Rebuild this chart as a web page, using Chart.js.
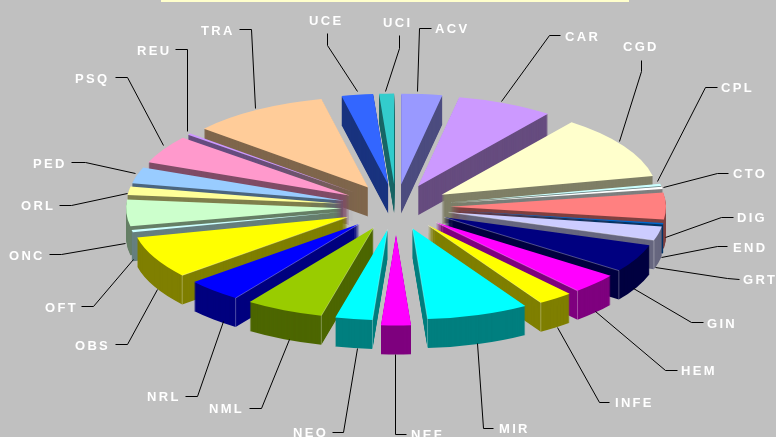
<!DOCTYPE html>
<html>
<head>
<meta charset="utf-8">
<style>
html,body{margin:0;padding:0;background:#C0C0C0;}
canvas{display:block;}
</style>
<script src="https://cdn.jsdelivr.net/npm/chart.js@4"></script>
</head>
<body>
<canvas id="c" width="776" height="437"></canvas>
<script>
const categories = ["ACV","CAR","CGD","CPL","CTO","DIG","END","GRT","GIN","HEM","INFE","MIR","NEF","NEO","NML","NRL","OBS","OFT","ONC","ORL","PED","PSQ","REU","TRA","UCE","UCI"];
const values = [11,26,41,1.5,1.5,17,1,9,18,13,9.5,27.5,8,10,21,15,27,1.5,17,5.5,10.5,18,1,37,8.5,4];
const colors = ["#9999FF","#CC99FF","#FFFFCC","#CCFFFF","#FFFFFF","#FF8080","#0066CC","#CCCCFF","#000080","#FF00FF","#FFFF00","#00FFFF","#FF00FF","#00FFFF","#99CC00","#0000FF","#FFFF00","#CCFFFF","#CCFFCC","#FFFF99","#99CCFF","#FF99CC","#CC99FF","#FFCC99","#3366FF","#33CCCC"];

// Layout of the callouts: text left edge, text middle, elbow, and end of the leader
const callouts = {
  ACV:{x:435,y:29,l:[[431,28],[419,28],[417,91]]},
  CAR:{x:565,y:37,l:[[560,35],[549,35],[501,101]]},
  CGD:{x:623,y:47,l:[[641,60],[641,71],[619,141]]},
  CPL:{x:721,y:88,l:[[717,87],[705,87],[657,181]]},
  CTO:{x:733,y:174,l:[[728,173],[717,173],[663,187]]},
  DIG:{x:737,y:218,l:[[733,217],[721,217],[665,237]]},
  END:{x:733,y:248,l:[[727,246],[717,246],[661,257]]},
  GRT:{x:743,y:280,l:[[739,279],[727,278],[655,267]]},
  GIN:{x:707,y:324,l:[[703,322],[691,322],[633,288]]},
  HEM:{x:681,y:371,l:[[677,370],[665,370],[595,311]]},
  INFE:{x:615,y:403,l:[[609,402],[599,402],[557,327]]},
  MIR:{x:499,y:429,l:[[493,428],[483,428],[477,343]]},
  NEF:{x:411,y:435,l:[[406,434],[395,434],[395,354]]},
  NEO:{x:293,y:433,l:[[332,432],[343,432],[357,348]]},
  NML:{x:209,y:409,l:[[249,408],[261,408],[289,339]]},
  NRL:{x:147,y:397,l:[[185,396],[197,396],[223,321]]},
  OBS:{x:75,y:346,l:[[115,344],[127,344],[157,289]]},
  OFT:{x:45,y:308,l:[[81,306],[93,306],[133,259]]},
  ONC:{x:9,y:256,l:[[49,254],[61,254],[125,243]]},
  ORL:{x:21,y:206,l:[[59,205],[71,205],[127,193]]},
  PED:{x:33,y:164,l:[[71,162],[85,162],[135,173]]},
  PSQ:{x:75,y:79,l:[[115,77],[127,77],[163,145]]},
  REU:{x:137,y:51,l:[[175,49],[187,49],[187,131]]},
  TRA:{x:201,y:31,l:[[239,29],[251,29],[255,108]]},
  UCE:{x:309,y:21,l:[[327,33],[327,45],[357,91]]},
  UCI:{x:383,y:23,l:[[399,35],[399,48],[385,91]]}
};

const TILT = 0.42, EXPLODE = 54, DEPTH = 29;
const extraExplode = {NEF:12};

function halve(hex){
  const n = parseInt(hex.slice(1),16);
  const r=(n>>16)&255,g=(n>>8)&255,b=n&255;
  return `rgb(${r>>1},${g>>1},${b>>1})`;
}

const pie3d = {
  id:'pie3d',
  beforeDraw(chart){
    const {ctx,width,height} = chart;
    ctx.save();
    ctx.fillStyle='#C0C0C0';
    ctx.fillRect(0,0,width,height);
    ctx.fillStyle='#FFFFCC';
    ctx.fillRect(161,0,468,2);
    ctx.restore();
  },
  beforeDatasetsDraw(chart){
    const ctx = chart.ctx;
    const arcs = chart.getDatasetMeta(0).data;
    const mid = a => (a.startAngle+a.endAngle)/2;
    const order = arcs.map((a,i)=>i).sort((i,j)=>Math.sin(mid(arcs[i]))-Math.sin(mid(arcs[j])));
    const push = i => EXPLODE+(extraExplode[categories[i]]||0);
    const place=(arc,i,d)=>{
      const h=mid(arc);
      ctx.translate(0,arc.y+d);
      ctx.scale(1,TILT);
      ctx.translate(0,-arc.y);
      ctx.translate(Math.cos(h)*push(i),Math.sin(h)*push(i));
    };
    order.forEach(i=>{
      const arc=arcs[i];
      const base=arc.options;
      const dark=Object.create(base);
      dark.backgroundColor=halve(colors[i]);
      arc.options=dark;
      for(let d=DEPTH;d>=1;d--){
        ctx.save(); place(arc,i,d); arc.draw(ctx); ctx.restore();
      }
      arc.options=base;
      ctx.save(); place(arc,i,0); arc.draw(ctx); ctx.restore();
      // faint seam along the wall that faces the viewer
      const h=mid(arc), sinH=Math.sin(h), cosH=Math.cos(h);
      if(sinH>0.1 && Math.abs(cosH)>0.12 && arc.endAngle-arc.startAngle>0.06){
        const edge = cosH<0 ? arc.startAngle : arc.endAngle;
        const tx=arc.x+cosH*push(i), ty=arc.y+sinH*push(i)*TILT;
        const ox=tx+Math.cos(edge)*arc.outerRadius, oy=ty+Math.sin(edge)*arc.outerRadius*TILT;
        ctx.save();
        ctx.strokeStyle='rgba(255,255,255,0.3)';
        ctx.lineWidth=1;
        ctx.beginPath();
        ctx.moveTo(tx,ty);ctx.lineTo(ox,oy);ctx.lineTo(ox,oy+DEPTH);
        ctx.stroke();
        ctx.restore();
      }
    });
    return false;
  },
  afterDraw(chart){
    const ctx=chart.ctx;
    ctx.save();
    ctx.strokeStyle='#000';
    ctx.lineWidth=1;
    ctx.fillStyle='#FFFFFF';
    ctx.font='bold 13px "Liberation Sans", Arial, sans-serif';
    ctx.letterSpacing='2.3px';
    ctx.textBaseline='middle';
    ctx.textAlign='left';
    categories.forEach(name=>{
      const c=callouts[name];
      ctx.beginPath();
      c.l.forEach((p,k)=>k?ctx.lineTo(p[0]+.5,p[1]+.5):ctx.moveTo(p[0]+.5,p[1]+.5));
      ctx.stroke();
      ctx.fillText(name,c.x,c.y);
    });
    ctx.restore();
  }
};

new Chart(document.getElementById('c'),{
  type:'pie',
  data:{labels:categories,datasets:[{data:values,backgroundColor:colors,borderWidth:0}]},
  options:{
    responsive:false,
    animation:false,
    events:[],
    radius:216,
    layout:{padding:{left:16,bottom:23}},
    plugins:{legend:{display:false},tooltip:{enabled:false},title:{display:false}}
  },
  plugins:[pie3d]
});
</script>
</body>
</html>
